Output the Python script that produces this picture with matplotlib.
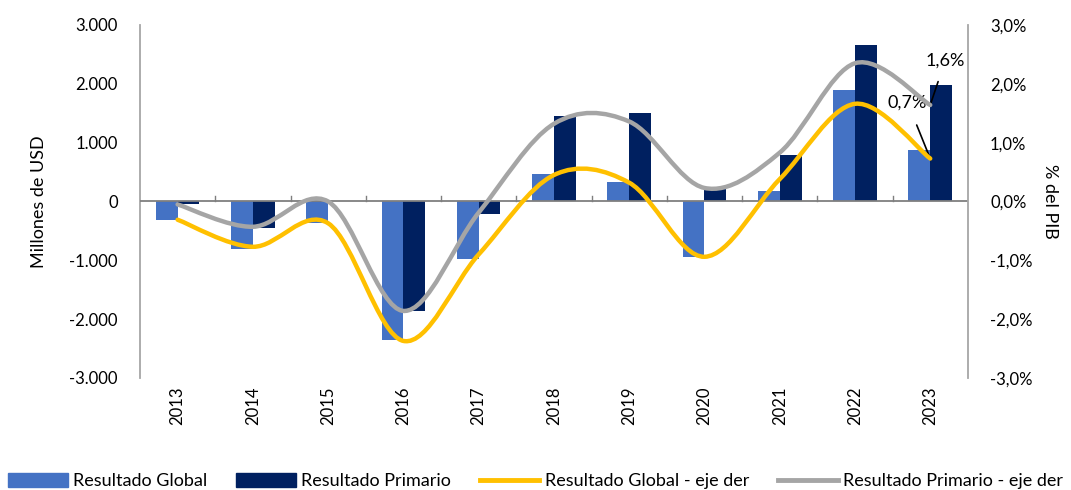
import numpy as np
import matplotlib
matplotlib.use('Agg')
import matplotlib.pyplot as plt
from matplotlib.path import Path
from matplotlib.patches import PathPatch
from matplotlib.lines import Line2D
from matplotlib.patches import Patch

plt.rcParams['font.family'] = ['Lato', 'DejaVu Sans']

years = ['2013', '2014', '2015', '2016', '2017', '2018', '2019', '2020', '2021', '2022', '2023']
global_usd = [-320, -800, -360, -2360, -970, 460, 330, -940, 170, 1890, 880]
primario_usd = [-50, -450, 10, -1860, -210, 1460, 1500, 220, 790, 2660, 1980]
global_pib = [-0.31, -0.77, -0.37, -2.37, -0.90, 0.45, 0.32, -0.94, 0.38, 1.66, 0.73]
primario_pib = [-0.05, -0.43, 0.0, -1.86, -0.19, 1.32, 1.36, 0.23, 0.83, 2.35, 1.64]

c_global = '#4472C4'
c_prim = '#002060'
c_yellow = '#FFC000'
c_gray = '#A5A5A5'
c_axis = '#A6A6A6'
fs = 12


def smooth_path(xs, ys):
    # Excel-like smoothed line: Catmull-Rom converted to cubic Bezier segments
    pts = np.column_stack([xs, ys]).astype(float)
    n = len(pts)
    verts = [pts[0]]
    codes = [Path.MOVETO]
    for i in range(n - 1):
        p0 = pts[i - 1] if i > 0 else pts[i]
        p1 = pts[i]
        p2 = pts[i + 1]
        p3 = pts[i + 2] if i + 2 < n else pts[i + 1]
        c1 = p1 + (p2 - p0) / 6.0
        c2 = p2 - (p3 - p1) / 6.0
        verts += [c1, c2, p2]
        codes += [Path.CURVE4] * 3
    return Path(verts, codes)


fig = plt.figure(figsize=(10.71, 4.9), dpi=100)
ax = fig.add_axes([0.1307, 0.2286, 0.773, 0.7204])
ax2 = ax.twinx()

x = np.arange(len(years))
w = 0.29
ax.bar(x - w / 2, global_usd, width=w, color=c_global, zorder=2)
ax.bar(x + w / 2, primario_usd, width=w, color=c_prim, zorder=2)

ax.set_xlim(-0.5, len(years) - 0.5)
ax.set_ylim(-3000, 3000)
ax.set_yticks(np.arange(-3000, 3001, 1000))
ax.set_yticklabels(['-3.000', '-2.000', '-1.000', '0', '1.000', '2.000', '3.000'], fontsize=fs)
ax.set_ylabel('Millones de USD', fontsize=13, labelpad=16)

ax.spines['top'].set_visible(False)
ax.spines['right'].set_visible(False)
ax.spines['bottom'].set_visible(False)
ax.spines['left'].set_color(c_axis)
ax.spines['left'].set_linewidth(1.3)
ax.axhline(0, color='#7F7F7F', lw=1.3, zorder=3)
for b in np.arange(0.5, len(years) - 0.5, 1.0):
    ax.plot([b, b], [0, 100], color='#7F7F7F', lw=1.0, zorder=3)
ax.tick_params(axis='y', length=0, pad=16)
ax.set_xticks(x)
ax.set_xticklabels(years, rotation=90, fontsize=fs)
ax.tick_params(axis='x', length=0, pad=6)

ax2.set_ylim(-3, 3)
ax2.set_yticks(np.arange(-3, 3.01, 1))
ax2.set_yticklabels(['-3,0%', '-2,0%', '-1,0%', '0,0%', '1,0%', '2,0%', '3,0%'], fontsize=fs)
ax2.set_ylabel('% del PIB', fontsize=13, rotation=-90, labelpad=18)
ax2.tick_params(axis='y', length=0, pad=16)
for s in ['top', 'left', 'bottom']:
    ax2.spines[s].set_visible(False)
ax2.spines['right'].set_color(c_axis)
ax2.spines['right'].set_linewidth(1.3)

ax2.add_patch(PathPatch(smooth_path(x, primario_pib), fill=False, edgecolor=c_gray,
                        lw=3.2, capstyle='round', zorder=4))
ax2.add_patch(PathPatch(smooth_path(x, global_pib), fill=False, edgecolor=c_yellow,
                        lw=3.2, capstyle='round', zorder=5))

ax2.annotate('1,6%', xy=(x[-1], primario_pib[-1]), xytext=(x[-1] + 0.2, 2.4),
             fontsize=13, ha='center', va='center',
             arrowprops=dict(arrowstyle='-', color='black', lw=1.2, shrinkA=8, shrinkB=0))
ax2.annotate('0,7%', xy=(x[-1], global_pib[-1]), xytext=(x[-1] - 0.3, 1.68),
             fontsize=13, ha='center', va='center',
             arrowprops=dict(arrowstyle='-', color='black', lw=1.2, shrinkA=9, shrinkB=0))

handles = [Patch(color=c_global, label='Resultado Global'),
           Patch(color=c_prim, label='Resultado Primario'),
           Line2D([], [], color=c_yellow, lw=3.5, label='Resultado Global - eje der'),
           Line2D([], [], color=c_gray, lw=3.5, label='Resultado Primario - eje der')]
fig.legend(handles=handles, loc='lower center', bbox_to_anchor=(0.5, -0.032), ncol=4,
           frameon=False, fontsize=13, handlelength=3.3, handleheight=0.85,
           handletextpad=0.3, columnspacing=1.6)

fig.savefig('out.png', dpi=100)
